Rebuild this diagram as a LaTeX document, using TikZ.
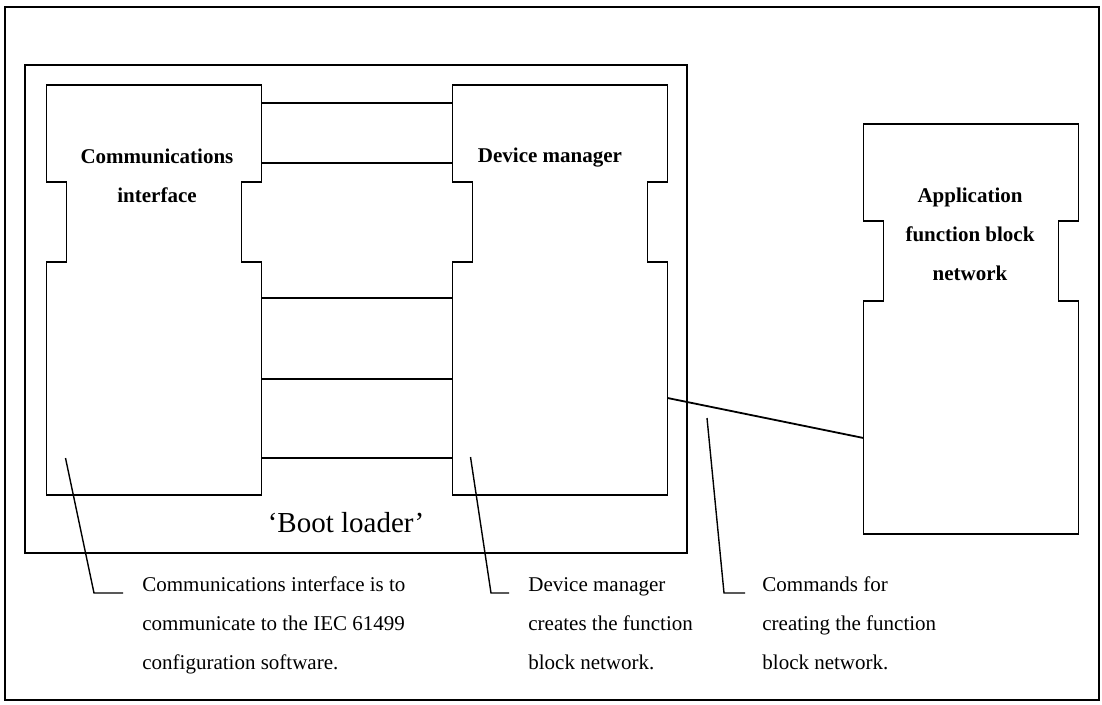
\documentclass[tikz,border=0pt]{standalone}
\usepackage{fontspec}
\setmainfont{Liberation Serif}

% outline of a block with a notch on each side
\newcommand{\notchbox}[1]{%
  \draw[boxline] (#1.north west) -- (#1.north east) -- ++(0,97) -- ++(-20,0) -- ++(0,80) -- ++(20,0)
    -- (#1.south east) -- (#1.south west) -- ([shift={(0,177)}]#1.north west) -- ++(20,0) -- ++(0,-80) -- ++(-20,0) -- cycle;}

\begin{document}
\begin{tikzpicture}[x=0.5pt, y=-0.5pt,
    boxline/.style={line width=0.9pt},
    block/.style={minimum width=107.5pt, minimum height=205pt, inner sep=0pt, outer sep=0pt},
    frame/.style={draw, line width=0.8pt, inner sep=0pt, outer sep=0pt},
    link/.style={line width=0.9pt},
    lead/.style={line width=0.7pt},
    title/.style={font=\fontsize{10.5}{19.5}\selectfont\bfseries, align=center, anchor=base, inner sep=0pt},
    note/.style={font=\fontsize{10.5}{19.5}\selectfont, align=left, anchor=base west, inner sep=0pt}]
    \useasboundingbox (0,0) rectangle (1102,705);
    \node[frame, minimum width=547pt, minimum height=346.5pt] (page) at (552,353.5) {};
    \node[frame, minimum width=331pt, minimum height=244pt] (boot) at (356,309) {};
    \node[font=\fontsize{14.5}{17}\selectfont] (bootlbl) at ([shift={(-10,-30)}]boot.south) {‘Boot loader’};

    % the three blocks
    \node[block] (comm) at (154,290) {};
    \node[block] (dm) at (560,290) {};
    \node[block] (app) at (971,329) {};
    \notchbox{comm}
    \notchbox{dm}
    \notchbox{app}
    \node[title] (commlbl) at ([shift={(3,118)}]comm.north) {Communications\\interface};
    \node[title] (dmlbl) at ([shift={(-10,78)}]dm.north) {Device manager};
    \node[title] (applbl) at ([shift={(-1,157)}]app.north) {Application\\function block\\network};

    % connections
    \foreach \dy in {18,78,213,294,373}
        \draw[link] ([shift={(0,\dy)}]comm.north east) -- ([shift={(0,\dy)}]dm.north west);
    \draw[link] ([shift={(0,313)}]dm.north east) -- ([shift={(0,314)}]app.north west);

    % notes (base = last line)
    \node[note] (cap1) at (142,669) {Communications interface is to\\communicate to the IEC 61499\\configuration software.};
    \node[note] (cap2) at (528,669) {Device manager\\creates the function\\block network.};
    \node[note] (cap3) at (762,669) {Commands for\\creating the function\\block network.};
    \coordinate (p1) at ([shift={(19,-37)}]comm.south west);
    \coordinate (p2) at ([shift={(18,-38)}]dm.south west);
    \coordinate (p3) at (707,418);
    \draw[lead] (p1) -- ([shift={(-48,-76)}]cap1.base west) -- ([shift={(-19,-76)}]cap1.base west);
    \draw[lead] (p2) -- ([shift={(-37,-76)}]cap2.base west) -- ([shift={(-19,-76)}]cap2.base west);
    \draw[lead] (p3) -- ([shift={(-38,-76)}]cap3.base west) -- ([shift={(-17,-76)}]cap3.base west);
\end{tikzpicture}
\end{document}
